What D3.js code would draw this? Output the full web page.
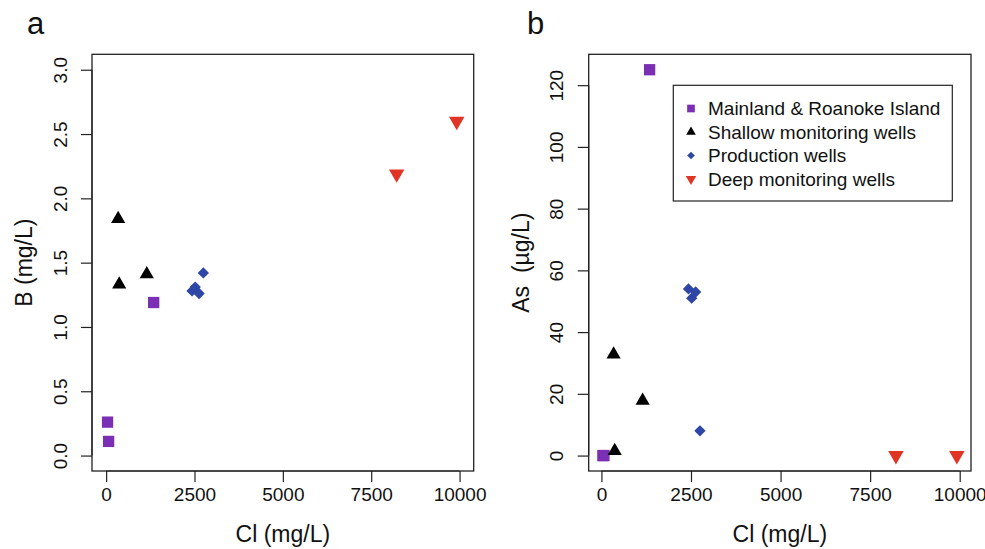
<!DOCTYPE html>
<html>
<head>
<meta charset="utf-8">
<script src="https://cdn.jsdelivr.net/npm/d3@7"></script>
<style>
  body { margin: 0; background: #fff; }
  svg { display: block; font-family: "Liberation Sans", Arial, Helvetica, sans-serif; }
</style>
</head>
<body>
<svg id="chart" width="985" height="549"></svg>
<script>
// groups, in legend order
var groups = ['Mainland & Roanoke Island', 'Shallow monitoring wells', 'Production wells', 'Deep monitoring wells'];
var groupColors = ['#7b2fb5', '#000000', '#2e46a6', '#e03424'];

// chloride (mg/L) for each sample, per group
var clMainland = [40, 70, 1345];
var clShallow = [340, 370, 1150];
var clProduction = [2430, 2520, 2630, 2750];
var clDeep = [8220, 9920];

// boron (mg/L), panel a
var bMainland = [0.26, 0.11, 1.19];
var bShallow = [1.84, 1.33, 1.41];
var bProduction = [1.28, 1.31, 1.26, 1.42];
var bDeep = [2.19, 2.60];

// arsenic (ug/L), panel b
var asMainland = [0, 0, 125];
var asShallow = [32.8, 1.5, 17.8];
var asProduction = [54, 51, 53, 8];
var asDeep = [0, 0];

var xTicks = [0, 2500, 5000, 7500, 10000];
var bTicks = [0, 0.5, 1, 1.5, 2, 2.5, 3];
var asTicks = [0, 20, 40, 60, 80, 100, 120];

var svg = d3.select('#chart');

// R-ish symbols: pch 15, 17, 18, 25
function symbolPath (gi, big) {
  var k = big ? 1 : 0.68;
  if (gi === 0) return d3.symbol(d3.symbolSquare, Math.pow(11.3 * k, 2))();
  if (gi === 1) return d3.symbol(d3.symbolTriangle, Math.pow(14.2 * k, 2) * Math.sqrt(3) / 4)();
  if (gi === 2) return d3.symbol(d3.symbolSquare, Math.pow(8 * k, 2))();
  return d3.symbol(d3.symbolTriangle, Math.pow(15.5 * k, 2) * Math.sqrt(3) / 4)();
}
function symbolRotate (gi) {
  if (gi === 2) return ' rotate(45)';
  if (gi === 3) return ' rotate(180)';
  return '';
}

// R's default 4% axis padding
function pad (lo, hi) {
  var d = (hi - lo) * 0.04;
  return [lo - d, hi + d];
}

function drawPanel (opts) {
  var box = opts.box;
  var x = d3.scaleLinear().domain(opts.xDomain).range([box.left, box.right]);
  var y = d3.scaleLinear().domain(opts.yDomain).range([box.bottom, box.top]);

  var g = svg.append('g');

  g.append('rect')
    .attr('x', box.left).attr('y', box.top)
    .attr('width', box.right - box.left).attr('height', box.bottom - box.top)
    .attr('fill', 'none').attr('stroke', '#222').attr('stroke-width', 1.3);

  var xAxis = g.append('g')
    .attr('transform', 'translate(0,' + box.bottom + ')')
    .call(d3.axisBottom(x).tickValues(xTicks).tickSize(11).tickPadding(6).tickFormat(d3.format('d')));
  xAxis.select('.domain').attr('d', 'M' + x(xTicks[0]) + ',0H' + x(xTicks[xTicks.length - 1]));
  xAxis.selectAll('text').attr('font-size', 19).attr('fill', '#111');

  var yAxis = g.append('g')
    .attr('transform', 'translate(' + box.left + ',0)')
    .call(d3.axisLeft(y).tickValues(opts.yTicks).tickSize(11).tickFormat(opts.yFormat));
  yAxis.select('.domain').attr('d', 'M0,' + y(opts.yTicks[0]) + 'V' + y(opts.yTicks[opts.yTicks.length - 1]));
  yAxis.selectAll('text')
    .attr('font-size', 19).attr('fill', '#111')
    .attr('x', null).attr('dy', null)
    .attr('text-anchor', 'middle')
    .attr('transform', 'translate(-' + opts.yLabelGap + ',0) rotate(-90)');
  g.selectAll('.tick line').attr('stroke', '#222').attr('stroke-width', 1.2);
  g.selectAll('.domain').attr('stroke', '#222').attr('stroke-width', 1.2);

  opts.series.forEach((s, gi) => {
    var pts = s.cl.map((c, i) => [c, s.v[i]]);
    g.selectAll(null)
      .data(pts)
      .enter().append('path')
        .attr('d', symbolPath(gi, true))
        .attr('transform', d => 'translate(' + x(d[0]) + ',' + y(d[1]) + ')' + symbolRotate(gi))
        .attr('fill', groupColors[gi]);
  });

  g.append('text')
    .attr('x', (box.left + box.right) / 2).attr('y', 542)
    .attr('text-anchor', 'middle').attr('font-size', 23).attr('fill', '#111')
    .text('Cl (mg/L)');

  g.append('text')
    .attr('transform', 'translate(' + (box.left - 60) + ',' + (box.top + box.bottom) / 2 + ') rotate(-90)')
    .attr('text-anchor', 'middle').attr('font-size', 23).attr('fill', '#111')
    .attr('xml:space', 'preserve')
    .text(opts.yTitle);

  g.append('text')
    .attr('x', opts.letterX).attr('y', 34)
    .attr('font-size', 31).attr('fill', '#111')
    .text(opts.letter);

  return g;
}

drawPanel({
  box: { left: 92, right: 473.7, top: 54.3, bottom: 471 },
  xDomain: pad(0, 10000),
  yDomain: pad(0, 3),
  yTicks: bTicks,
  yFormat: d3.format('.1f'),
  yLabelGap: 25,
  yTitle: 'B (mg/L)',
  letter: 'a',
  letterX: 27,
  series: [
    { cl: clMainland, v: bMainland },
    { cl: clShallow, v: bShallow },
    { cl: clProduction, v: bProduction },
    { cl: clDeep, v: bDeep }
  ]
});

var allCl = [].concat(clMainland, clShallow, clProduction, clDeep);
var allAs = [].concat(asMainland, asShallow, asProduction, asDeep);

var gb = drawPanel({
  box: { left: 588.7, right: 971, top: 54.3, bottom: 471 },
  xDomain: pad(d3.min(allCl), d3.max(allCl)),
  yDomain: pad(d3.min(allAs), d3.max(allAs)),
  yTicks: asTicks,
  yFormat: d3.format('d'),
  yLabelGap: 26,
  yTitle: 'As  (\u00b5g/L)',
  letter: 'b',
  letterX: 527,
  series: [
    { cl: clMainland, v: asMainland },
    { cl: clShallow, v: asShallow },
    { cl: clProduction, v: asProduction },
    { cl: clDeep, v: asDeep }
  ]
});

// legend
var legend = gb.append('g');
legend.append('rect')
  .attr('x', 673.3).attr('y', 85.3).attr('width', 279).attr('height', 115.7)
  .attr('fill', '#fff').attr('stroke', '#222').attr('stroke-width', 1.2);
var rows = legend.selectAll('.row')
  .data(groups)
  .enter().append('g')
    .attr('class', 'row')
    .attr('transform', (d, i) => 'translate(691,' + (108.5 + i * 23.5) + ')');
rows.append('path')
  .attr('d', (d, i) => symbolPath(i, false))
  .attr('transform', (d, i) => symbolRotate(i).trim())
  .attr('fill', (d, i) => groupColors[i]);
rows.append('text')
  .attr('x', 17).attr('dy', '0.36em')
  .attr('font-size', 19).attr('fill', '#111')
  .text(d => d);
</script>
</body>
</html>
